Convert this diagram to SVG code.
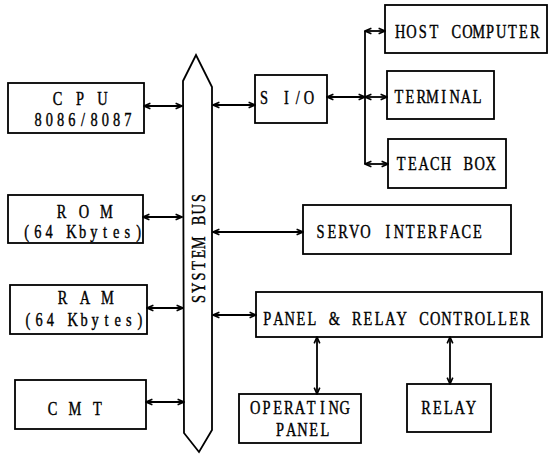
<svg xmlns="http://www.w3.org/2000/svg" width="549" height="462" viewBox="0 0 549 462">
<style>
.box{fill:#fff;stroke:#000;stroke-width:1.8}
.t{font-family:'Liberation Serif','Times New Roman',serif;font-size:18px;fill:#000;text-anchor:middle;stroke:#000;stroke-width:0.4}
.c{fill:none;stroke:#000;stroke-width:1.8}
</style>
<defs>
<marker id="ah" viewBox="0 0 10 10" refX="9" refY="5" markerWidth="8" markerHeight="8" orient="auto-start-reverse" markerUnits="userSpaceOnUse">
<path d="M1,1.5 L9,5 L1,8.5" fill="none" stroke="#000" stroke-width="2"/>
</marker>
</defs>
<rect width="549" height="462" fill="#fff"/>
<g id="bus">
<path class="box" d="M183,81 L196,55 L212,87 L212,430 L199,452 L184,433 Z"/>
<text class="t" transform="translate(205,304.5) rotate(-90) scale(0.8,1)" x="7 21 35 49 63 77 91 105 119 133">SYSTEM BUS</text>
</g>
<g id="cpu">
<rect class="box" x="8" y="83" width="136" height="50"/>
<text class="t" transform="translate(52,105) scale(0.8,1)" x="7 21 35 49 63">C P U</text>
<text class="t" transform="translate(32.6,126) scale(0.8,1)" x="7 21 35 49 63 77 91 105 119">8086/8087</text>
</g>
<g id="rom">
<rect class="box" x="8" y="195" width="135" height="48"/>
<text class="t" transform="translate(56,218) scale(0.8,1)" x="7 21 35 49 63">R O M</text>
<text class="t" transform="translate(21,238) scale(0.8,1)" x="7 21 35 49 63 77 91 105 119 133 147">(64 Kbytes)</text>
</g>
<g id="ram">
<rect class="box" x="10" y="285" width="137" height="49"/>
<text class="t" transform="translate(57,304) scale(0.8,1)" x="7 21 35 49 63">R A M</text>
<text class="t" transform="translate(22.4,326) scale(0.8,1)" x="7 21 35 49 63 77 91 105 119 133 147">(64 Kbytes)</text>
</g>
<g id="cmt">
<rect class="box" x="15" y="380" width="131" height="49"/>
<text class="t" transform="translate(47,415) scale(0.8,1)" x="7 21 35 49 63">C M T</text>
</g>
<g id="sio">
<rect class="box" x="255" y="75" width="72" height="48"/>
<text class="t" transform="translate(258.5,104) scale(0.8,1)" x="7 21 35 49 63">S I/O</text>
</g>
<g id="host">
<rect class="box" x="385" y="5" width="162" height="48"/>
<text class="t" transform="translate(394.7,38) scale(0.8,1)" x="7 21 35 49 63 77 91 105 119 133 147 161 175">HOST COMPUTER</text>
</g>
<g id="terminal">
<rect class="box" x="387" y="71" width="107" height="48"/>
<text class="t" transform="translate(393.2,103) scale(0.8,1)" x="7 21 35 49 63 77 91 105">TERMINAL</text>
</g>
<g id="teach">
<rect class="box" x="388" y="139" width="118" height="49"/>
<text class="t" transform="translate(395.6,170) scale(0.8,1)" x="7 21 35 49 63 77 91 105 119">TEACH BOX</text>
</g>
<g id="servo">
<rect class="box" x="303" y="205" width="208" height="49"/>
<text class="t" transform="translate(315,238) scale(0.8,1)" x="7 21 35 49 63 77 91 105 119 133 147 161 175 189 203">SERVO INTERFACE</text>
</g>
<g id="prc">
<rect class="box" x="256" y="292" width="286" height="45"/>
<text class="t" transform="translate(261.6,325) scale(0.8,1)" x="7 21 35 49 63 77 91 105 119 133 147 161 175 189 203 217 231 245 259 273 287 301 315 329">PANEL &amp; RELAY CONTROLLER</text>
</g>
<g id="oppanel">
<rect class="box" x="239" y="394" width="122" height="49"/>
<text class="t" transform="translate(249.6,414) scale(0.8,1)" x="7 21 35 49 63 77 91 105 119">OPERATING</text>
<text class="t" transform="translate(274.5,436) scale(0.8,1)" x="7 21 35 49 63">PANEL</text>
</g>
<g id="relay">
<rect class="box" x="407" y="384" width="84" height="48"/>
<text class="t" transform="translate(420.5,414) scale(0.8,1)" x="7 21 35 49 63">RELAY</text>
</g>
<g id="connectors">
<line class="c" x1="144" y1="106" x2="182" y2="106" marker-start="url(#ah)" marker-end="url(#ah)"/>
<line class="c" x1="143" y1="217" x2="182" y2="217" marker-start="url(#ah)" marker-end="url(#ah)"/>
<line class="c" x1="147" y1="308" x2="183" y2="308" marker-start="url(#ah)" marker-end="url(#ah)"/>
<line class="c" x1="146" y1="402" x2="184" y2="402" marker-start="url(#ah)" marker-end="url(#ah)"/>
<line class="c" x1="213" y1="105" x2="255" y2="105" marker-start="url(#ah)" marker-end="url(#ah)"/>
<line class="c" x1="213" y1="232" x2="303" y2="232" marker-start="url(#ah)" marker-end="url(#ah)"/>
<line class="c" x1="213" y1="315" x2="256" y2="315" marker-start="url(#ah)" marker-end="url(#ah)"/>
<line class="c" x1="327" y1="97" x2="365" y2="97" marker-start="url(#ah)" marker-end="url(#ah)"/>
<line class="c" x1="365" y1="31" x2="365" y2="164"/>
<line class="c" x1="365" y1="31" x2="385" y2="31" marker-start="url(#ah)" marker-end="url(#ah)"/>
<line class="c" x1="365" y1="97" x2="387" y2="97" marker-start="url(#ah)" marker-end="url(#ah)"/>
<line class="c" x1="365" y1="164" x2="388" y2="164" marker-start="url(#ah)" marker-end="url(#ah)"/>
<line class="c" x1="317" y1="337" x2="317" y2="394" marker-start="url(#ah)" marker-end="url(#ah)"/>
<line class="c" x1="450" y1="337" x2="450" y2="384" marker-start="url(#ah)" marker-end="url(#ah)"/>
</g>
</svg>
